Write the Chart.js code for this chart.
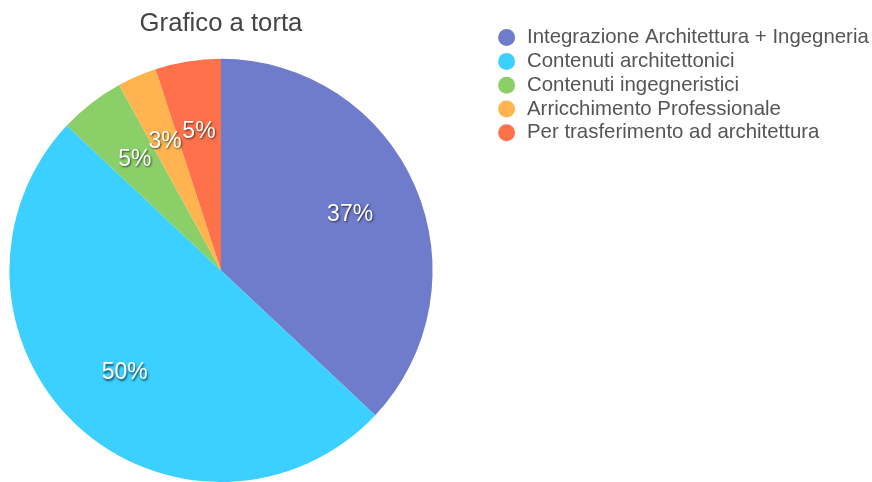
<!DOCTYPE html>
<html>
<head>
<meta charset="utf-8">
<title>Grafico a torta</title>
<script src="https://cdn.jsdelivr.net/npm/chart.js@4.4.1/dist/chart.umd.min.js"></script>
<style>
  html, body { margin: 0; padding: 0; background: #fff; }
  #torta { display: block; }
</style>
</head>
<body>
<canvas id="torta" width="872" height="482"></canvas>
<script>
const titolo = "Grafico a torta";
const categorie = [
    "Integrazione Architettura + Ingegneria",
    "Contenuti architettonici",
    "Contenuti ingegneristici",
    "Arricchimento Professionale",
    "Per trasferimento ad architettura"
];
const valori = [37, 50, 5, 3, 5];
const colori = ["#6f7bcb", "#3bd0ff", "#8bcf68", "#ffb44f", "#ff714b"];

const fontBase = "'Liberation Sans', Arial, Helvetica, sans-serif";

// scrive le percentuali dentro ogni fetta
const etichettePercentuali = {
    id: 'etichettePercentuali',
    afterDatasetsDraw(chart) {
        let ctx = chart.ctx;
        let meta = chart.getDatasetMeta(0);
        let dati = chart.data.datasets[0].data;
        let totale = dati.reduce((a, b) => a + b, 0);
        ctx.save();
        ctx.font = "23px " + fontBase;
        ctx.fillStyle = "#fff";
        ctx.textAlign = "center";
        ctx.textBaseline = "middle";
        ctx.shadowColor = "rgba(0,0,0,0.65)";
        ctx.shadowOffsetX = 1;
        ctx.shadowOffsetY = 1.5;
        ctx.shadowBlur = 2;
        meta.data.forEach((arco, i) => {
            let p = arco.getProps(['x', 'y', 'startAngle', 'endAngle', 'outerRadius'], true);
            let medio = (p.startAngle + p.endAngle) / 2;
            let r = p.outerRadius * 0.665;
            let testo = Math.round(dati[i] / totale * 100) + "%";
            ctx.fillText(testo, p.x + Math.cos(medio) * r, p.y + Math.sin(medio) * r);
        });
        ctx.restore();
    }
};

// legenda larga come nell'originale, poi spostata a destra e in basso
const posizioneLegenda = {
    id: 'posizioneLegenda',
    beforeInit(chart) {
        let fit = chart.legend.fit;
        chart.legend.fit = function() {
            fit.call(this);
            this.width = 430;
        };
    },
    afterLayout(chart) {
        chart.legend.left += 51;
        chart.legend.right += 51;
        chart.legend.top += 24;
    }
};

new Chart("torta", {
    type: "pie",
    data: {
        labels: categorie,
        datasets: [{
            data: valori,
            backgroundColor: colori,
            borderWidth: 0
        }]
    },
    options: {
        responsive: false,
        animation: false,
        events: [],
        layout: { padding: 0 },
        plugins: {
            title: {
                display: true,
                text: titolo,
                fullSize: false,
                color: "#444",
                font: { family: fontBase, size: 25.7, weight: "normal" },
                padding: { top: 8, bottom: 20 }
            },
            legend: {
                position: "right",
                align: "start",
                labels: {
                    usePointStyle: true,
                    pointStyle: "circle",
                    boxHeight: 12,
                    padding: 3.4,
                    color: "#555",
                    font: { family: fontBase, size: 20.4 }
                }
            },
            tooltip: { enabled: false }
        }
    },
    plugins: [etichettePercentuali, posizioneLegenda]
});
</script>
</body>
</html>
